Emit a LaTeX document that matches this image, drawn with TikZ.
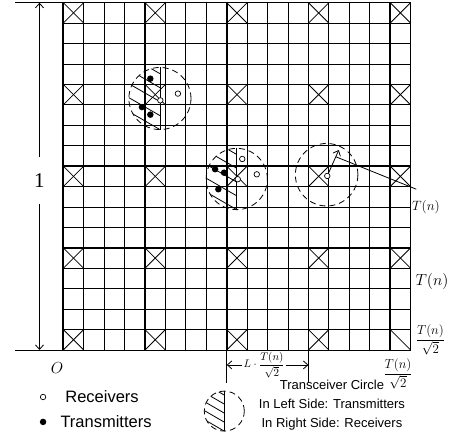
\RequirePackage{fix-cm}
\documentclass[tikz,border=0pt]{standalone}
\usepackage{amsmath}
\usepackage{fontspec}
\setmainfont{Liberation Serif}
\setsansfont{Liberation Sans}
\usetikzlibrary{positioning,arrows.meta,calc}

\begin{document}
\begin{tikzpicture}[
    x=20.43pt,y=20.43pt,
    >={Straight Barb[length=4.5pt,width=8pt]},
    gridline/.style={line width=0.8pt},
    gridthick/.style={line width=1.6pt},
    cross/.style={line width=0.8pt},
    circ/.style={line width=0.8pt,dash pattern=on 6pt off 4pt},
    hatch/.style={line width=0.8pt},
    rx/.style={circle,draw,line width=0.7pt,fill=white,inner sep=0pt,minimum size=5.5pt},
    tx/.style={circle,fill=black,inner sep=0pt,minimum size=6.5pt},
    dim/.style={->,line width=0.8pt},
    legtext/.style={font=\sffamily\fontsize{16.5}{19}\selectfont,inner sep=0pt},
    keytext/.style={font=\sffamily\fontsize{13}{19}\selectfont,align=center,inner sep=0pt},
    mathlab/.style={inner sep=0pt},
]
\useasboundingbox (-3.098,-4.552) rectangle (19.075,17.132);

% === GRID (17 x 17 cells) ===
\foreach \k in {0,...,17} {
    \draw[gridline] (\k,0) -- (\k,17);
    \draw[gridline] (0,\k) -- (17,\k);
}
\foreach \k in {0,4,...,16} {
    \draw[gridthick] (\k,0) -- (\k,17);
    \draw[gridthick] (0,\k+1) -- (17,\k+1);
}

% Active cells
\foreach \i in {0,4,...,16}
    \foreach \j in {0,4,...,16} {
        \draw[cross] (\i,\j+1) -- ++(1,-1);
        \ifnum\i\j=160 \else \draw[cross] (\i,\j) -- ++(1,1); \fi
    }

% === AXES / DIMENSION 1 ===
\draw[gridline] (-2.364,0) -- (0,0);
\draw[gridline] (-2.364,17) -- (0,17);
\coordinate (dimtop) at (-1.165,17);
\coordinate (dimbot) at (-1.165,0);
\node[font=\fontsize{21}{24}\selectfont,inner xsep=2pt,inner ysep=16pt] (one) at (-1.165,8.3) {1};
\draw[dim] (one) -- (dimtop);
\draw[dim] (one) -- (dimbot);
\node[mathlab,font=\fontsize{16}{19}\selectfont] (orig) at (-0.31,-0.88) {$O$};

% === TRANSCEIVER CIRCLES (left half hatched) ===
\foreach \cx/\cy/\r in {4.73/12.31/1.52, 8.49/8.37/1.5, 7.88/-2.99/0.98}{
    \begin{scope}[shift={(\cx,\cy)},scale=\r]
        \draw[circ] (0,0) circle (1);
        \draw[hatch] (0,1) -- (0,-1);
        \begin{scope}
            \clip (0,1) arc (90:270:1) -- cycle;
            \foreach \h in {0.8,0.35,-0.1,-0.55,-1.0}
                \draw[hatch] (0,\h) -- ++(150:2.5);
        \end{scope}
    \end{scope}
}

% Nodes in circle A
\node[tx] (ta1) at (4.26,13.28) {};
\node[tx] (ta2) at (3.85,11.89) {};
\node[tx] (ta3) at (4.26,11.52) {};
\node[rx] (ra1) at (5.61,12.55) {};
\node[rx] (ra0) at (4.75,12.22) {};

% Nodes in circle B
\node[tx] (tb1) at (7.43,8.85) {};
\node[tx] (tb2) at (7.87,8.68) {};
\node[tx] (tb3) at (7.59,7.87) {};
\node[rx] (rb1) at (8.76,9.35) {};
\node[rx] (rb2) at (9.47,8.60) {};
\node[rx] (rb0) at (8.54,8.36) {};

% === CIRCLE C with radius T(n) ===
\coordinate (cC) at (12.89,8.58);
\draw[circ] (cC) circle (1.53);
\node[rx] (cmark) at (12.92,8.52) {};
\coordinate (rtip) at ($(cmark)+(66:1.39)$);
\draw[dim] (cmark) -- (rtip);
\coordinate (ldrstart) at ($(cmark)!0.74!(rtip)$);
\coordinate (ldrend) at (17.28,7.87);
\draw[gridline] (ldrstart) -- (ldrend);
\node[mathlab,font=\fontsize{13.5}{16}\selectfont] (tn1) at (17.75,7.0) {$T(n)$};

% === RIGHT LABELS ===
\node[mathlab,font=\fontsize{16}{19}\selectfont] (tn2) at (18.05,3.33) {$T(n)$};
\node[mathlab,font=\fontsize{13}{16}\selectfont] (cellR) at (17.97,0.49) {$\dfrac{T(n)}{\sqrt{2}}$};
\node[mathlab,font=\fontsize{13}{16}\selectfont] (cellB) at (16.38,-1.17) {$\dfrac{T(n)}{\sqrt{2}}$};

% === DIMENSION L T(n)/sqrt2 ===
\draw[gridline] (8,0) -- (8,-1.62);
\draw[gridline] (12,0) -- (12,-1.62);
\coordinate (Lleft) at (8,-0.73);
\coordinate (Lright) at (12,-0.73);
\node[font=\fontsize{11}{13}\selectfont,inner sep=1pt] (Llab) at (9.83,-0.73) {$L\cdot\dfrac{T(n)}{\sqrt{2}}$};
\draw[dim] (Llab) -- (Lleft);
\draw[dim] (Llab) -- (Lright);

% === LEGEND ===
\node[rx,minimum size=5.5pt] (rxkey) at (-0.99,-2.30) {};
\node[legtext,right=19pt of rxkey] (rxtext) {Receivers};
\node[tx] (txkey) at (-0.99,-3.52) {};
\node[legtext,right=13.8pt of txkey] (txtext) {Transmitters};
\node[keytext] (trxtext) at (13.15,-2.70) {Transceiver Circle\\In Left Side: Transmitters\\In Right Side: Receivers};

\end{tikzpicture}
\end{document}
